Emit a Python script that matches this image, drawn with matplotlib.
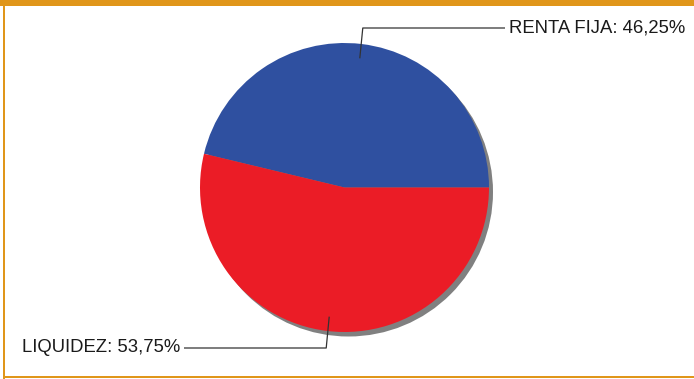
import numpy as np
import matplotlib
matplotlib.use("Agg")
import matplotlib.pyplot as plt
from matplotlib.patches import Circle, Rectangle

labels = ["RENTA FIJA", "LIQUIDEZ"]
values = [46.25, 53.75]
colors = ["#2F50A0", "#EB1C26"]

W, H = 694, 379
fig = plt.figure(figsize=(W / 100, H / 100), dpi=100)
fig.patch.set_facecolor("white")
ax = fig.add_axes([0, 0, 1, 1])
ax.set_xlim(0, W)
ax.set_ylim(0, H)
ax.set_aspect("equal")
ax.axis("off")

cx, cy, R = 344.5, 191.5, 144.5

# shadow
ax.add_patch(Circle((cx + 4, cy - 4.5), R, facecolor="#808080", edgecolor="none", zorder=1))

wedges, _ = ax.pie(values, colors=colors, startangle=0, counterclock=True,
                   center=(cx, cy), radius=R, frame=True,
                   wedgeprops=dict(linewidth=0, zorder=2))
ax.set_xlim(0, W)
ax.set_ylim(0, H)
ax.axis("off")

label_y = [351, 31]
line_end_x = [505, 184]
text_x = [509, 180]
ha = ["left", "right"]
offs = [3, -3]

start = 0.0
total = sum(values)
for i, (lab, v) in enumerate(zip(labels, values)):
    ang = np.deg2rad(start + v / total * 360 / 2)
    start += v / total * 360
    px = cx + 0.9 * R * np.cos(ang)
    py = cy + 0.9 * R * np.sin(ang)
    ax.plot([px, px + offs[i], line_end_x[i]], [py, label_y[i], label_y[i]],
            color="#333333", lw=0.9, zorder=3, solid_capstyle="butt")
    txt = f"{lab}: {v:.2f}%".replace(".", ",")
    ax.text(text_x[i], label_y[i], txt, ha=ha[i], va="center",
            fontsize=13.3, family="Liberation Sans", color="#1a1a1a", zorder=4)

# frame: orange top band and thin borders
orange = "#E0961A"
fig.patches.append(Rectangle((0, 1 - 6 / H), 1, 6 / H, transform=fig.transFigure,
                             facecolor=orange, edgecolor="none", zorder=5))
fig.patches.append(Rectangle((3 / W, 0), 2 / W, 1, transform=fig.transFigure,
                             facecolor=orange, edgecolor="none", zorder=5))
fig.patches.append(Rectangle((3 / W, 1 / H), 1, 2 / H, transform=fig.transFigure,
                             facecolor=orange, edgecolor="none", zorder=5))

fig.savefig("out.png", dpi=100, facecolor="white")
